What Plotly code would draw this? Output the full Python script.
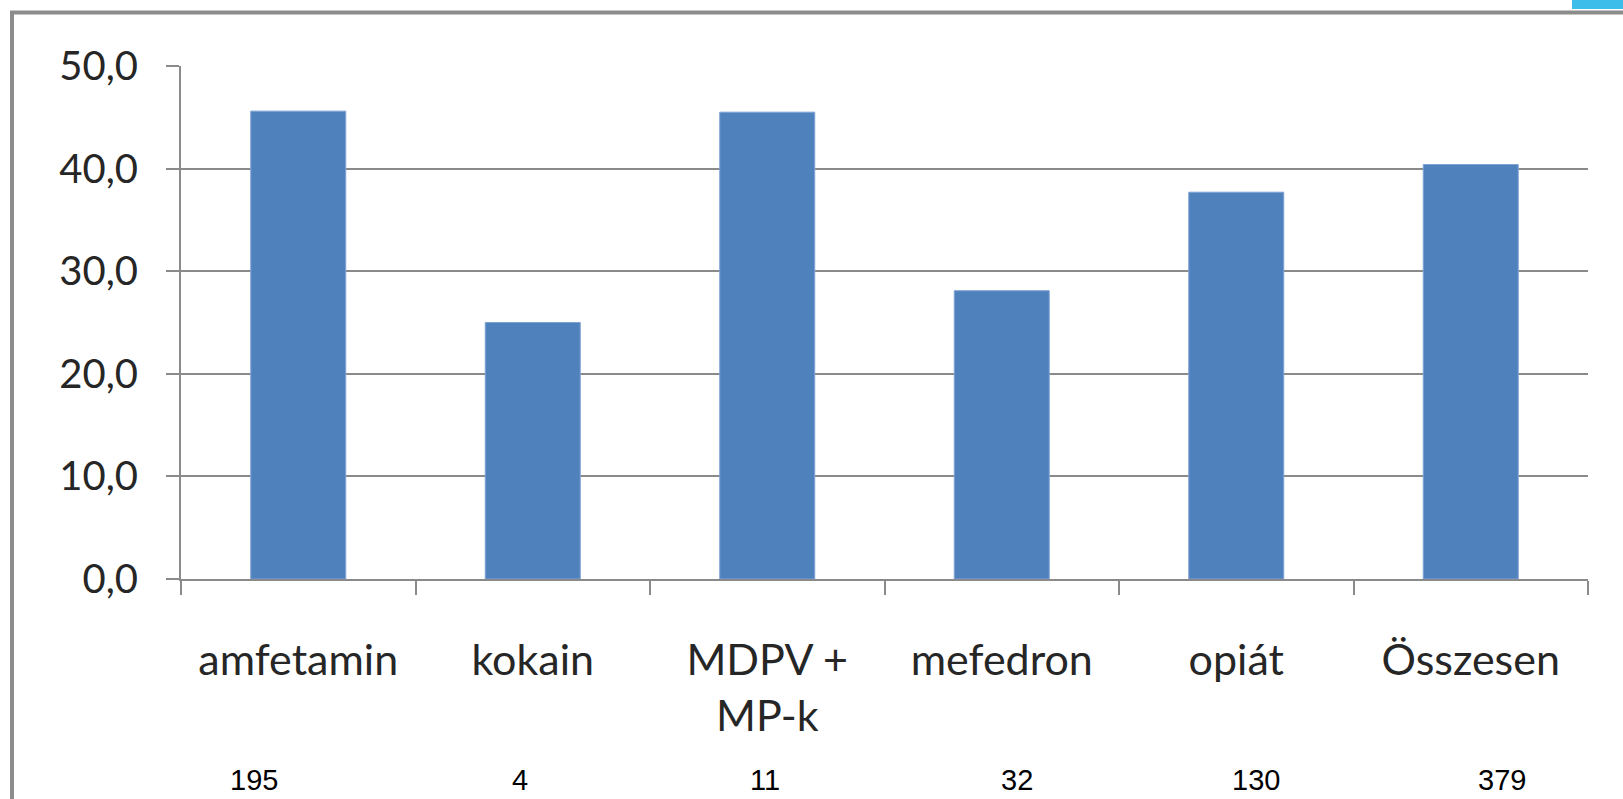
import plotly.graph_objects as go

categories = ["amfetamin", "kokain", "MDPV +<br>MP-k", "mefedron", "opiát", "Összesen"]
values = [45.6, 25.0, 45.5, 28.1, 37.7, 40.4]
n_labels = ["195", "4", "11", "32", "130", "379"]
n_xshift = [-44, -13, -2, 15, 20, 31]
y_ticks = [0, 10, 20, 30, 40, 50]

W, H = 1623, 799
ML, MR, MT, MB = 181, 35, 66, 220
PW, PH = W - ML - MR, H - MT - MB

fig = go.Figure()
fig.add_trace(go.Bar(
    x=categories, y=values,
    marker=dict(color="#4f81bd", line=dict(color="#7fa2d4", width=1)),
    hoverinfo="skip",
))

grid = "#8a8a8a"
fig.update_layout(
    width=W, height=H,
    margin=dict(l=ML, r=MR, t=MT, b=MB),
    paper_bgcolor="white", plot_bgcolor="white",
    bargap=0.595,
    separators=", ",
    showlegend=False,
    font=dict(family="Lato, 'Open Sans', sans-serif", color="#262626"),
    xaxis=dict(
        type="category", tickson="boundaries", ticks="outside", ticklen=14,
        tickwidth=2, tickcolor=grid, showline=True, linecolor=grid, linewidth=2,
        showgrid=False, tickfont=dict(size=43, color="#262626"),
        ticklabelstandoff=42, fixedrange=True,
    ),
    yaxis=dict(
        range=[0, 50], tickvals=y_ticks, tickformat=".1f", ticks="outside",
        ticklen=13, tickwidth=2, tickcolor=grid, showline=True, linecolor=grid,
        linewidth=2, showgrid=True, gridcolor=grid, gridwidth=2,
        zeroline=False, tickfont=dict(size=40, color="#262626"),
        ticklabelstandoff=20, fixedrange=True,
    ),
)

# n labels under categories
for cat, lab, dx in zip(categories, n_labels, n_xshift):
    fig.add_annotation(
        x=cat, xref="x", y=(579 - 797) / PH, yref="paper",
        text=lab, showarrow=False, xshift=dx, yanchor="bottom", borderpad=0,
        font=dict(family="Liberation Sans, Arial, sans-serif", size=29, color="black"),
    )

# outer frame (grey border)
fig.add_shape(
    type="rect", xref="paper", yref="paper",
    x0=(12 - ML) / PW, x1=1.2, y0=-0.6, y1=(579 - 12.5) / PH,
    line=dict(color="#8c8c8c", width=4), fillcolor="rgba(0,0,0,0)", layer="below",
)
# top-right blue decoration
fig.add_shape(
    type="rect", xref="paper", yref="paper",
    x0=(1572 - ML) / PW, x1=(1630 - ML) / PW, y0=(579 - 9) / PH, y1=(579 + 5) / PH,
    line=dict(width=0), fillcolor="#3dbde9", layer="below",
)

fig.write_html(
    "out.html",
    config={"displayModeBar": False},
    post_script="document.body.style.margin='0';document.body.style.overflow='hidden';",
)
